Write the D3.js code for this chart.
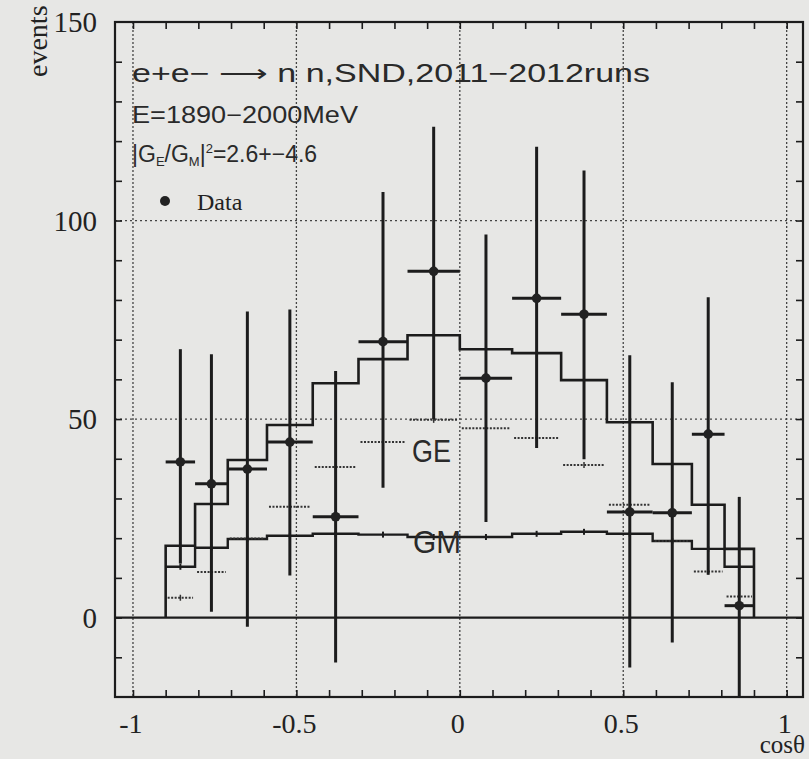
<!DOCTYPE html>
<html>
<head>
<meta charset="utf-8">
<script src="https://cdn.jsdelivr.net/npm/d3@7"></script>
<style>
  body { margin: 0; background: #e7e7e5; }
  svg { display: block; }
</style>
</head>
<body>
<svg width="809" height="759"></svg>
<script>
// angular distribution, e+e- -> n nbar, SND 2011-2012

// bin edges in cos(theta)
const binEdges = [-0.9, -0.81, -0.71, -0.59, -0.45, -0.31, -0.16, 0, 0.16, 0.31, 0.45, 0.59, 0.71, 0.81, 0.9];
// data points (events) with asymmetric error bar ends
const dataEvents = [39.2, 33.7, 37.4, 44.2, 25.4, 69.5, 87.2, 60.3, 80.4, 76.4, 26.6, 26.4, 46.2, 3.0];
const dataUpper = [67.6, 66.3, 77.1, 77.6, 62.1, 107.2, 123.6, 96.5, 118.6, 112.6, 66.1, 59.3, 80.7, 30.4];
const dataLower = [13.6, 1.5, -2.3, 10.6, -11.3, 32.7, 50.0, 24.1, 42.7, 39.9, -12.6, -6.3, 10.8, -25];
// fit: total, GE part, GM part
const fitTotal = [18.1, 28.6, 39.7, 48.5, 59.0, 65.1, 71.1, 67.6, 66.6, 59.8, 49.2, 38.7, 28.4, 17.3];
const fitGE = [5.0, 11.5, 19.9, 27.9, 37.9, 44.2, 49.8, 47.7, 45.2, 38.4, 28.4, 19.3, 11.6, 5.3];
const fitGM = [12.8, 17.6, 19.8, 20.6, 21.1, 20.9, 20.3, 20.3, 21.1, 21.6, 21.1, 19.3, 17.3, 12.8];

// ticks
const xMajor = [-1, -0.5, 0, 0.5, 1];
const xTickLabels = ["-1", "-0.5", "0", "0.5", "1"];
const yMajor = [0, 50, 100, 150];
const yTickLabels = ["0", "50", "100", "150"];
const xMinor = [-1, -0.9, -0.8, -0.7, -0.6, -0.5, -0.4, -0.3, -0.2, -0.1, 0, 0.1, 0.2, 0.3, 0.4, 0.5, 0.6, 0.7, 0.8, 0.9, 1];
const yMinor = [-10, 0, 10, 20, 30, 40, 50, 60, 70, 80, 90, 100, 110, 120, 130, 140];

const ink = "#1c1c1c";
const svg = d3.select("svg");

const fLeft = 115, fRight = 803, fTop = 22, fBottom = 697;
const x = d3.scaleLinear().domain([-1.055, 1.05]).range([fLeft, fRight]);
const y = d3.scaleLinear().domain([-20, 150]).range([fBottom, fTop]);

const bins = fitTotal.map((d, i) => ({
  i: i,
  x0: binEdges[i],
  x1: binEdges[i + 1],
  xc: (binEdges[i] + binEdges[i + 1]) / 2,
}));

svg.append("defs").append("clipPath").attr("id", "frame")
  .append("rect")
  .attr("x", fLeft).attr("y", fTop)
  .attr("width", fRight - fLeft).attr("height", fBottom - fTop);

const plot = svg.append("g").attr("clip-path", "url(#frame)");

// dotted grid
plot.selectAll(".vgrid").data(xMajor).enter().append("line")
  .attr("x1", (d) => x(d)).attr("x2", (d) => x(d))
  .attr("y1", fTop).attr("y2", fBottom)
  .attr("stroke", "#444").attr("stroke-width", 1.3)
  .attr("stroke-dasharray", "2,2");
plot.selectAll(".hgrid").data([50, 100]).enter().append("line")
  .attr("x1", fLeft).attr("x2", fRight)
  .attr("y1", (d) => y(d)).attr("y2", (d) => y(d))
  .attr("stroke", "#444").attr("stroke-width", 1.3)
  .attr("stroke-dasharray", "2,3");
// zero line
plot.append("line")
  .attr("x1", fLeft).attr("x2", fRight)
  .attr("y1", y(0)).attr("y2", y(0))
  .attr("stroke", ink).attr("stroke-width", 2.2);

// step line helper
const stepPts = (vals, closeToZero) => {
  const pts = [];
  if (closeToZero) pts.push([binEdges[0], 0]);
  vals.forEach((v, i) => {
    pts.push([binEdges[i], v]);
    pts.push([binEdges[i + 1], v]);
  });
  if (closeToZero) pts.push([binEdges[binEdges.length - 1], 0]);
  return pts;
};
const line = d3.line().x((d) => x(d[0])).y((d) => y(d[1]));

// total fit
plot.append("path")
  .attr("d", line(stepPts(fitTotal, true)))
  .attr("fill", "none").attr("stroke", ink).attr("stroke-width", 2.6);

// GM part
plot.append("path")
  .attr("d", line(stepPts(fitGM, false)))
  .attr("fill", "none").attr("stroke", ink).attr("stroke-width", 2.4);
plot.selectAll(".gmtick").data(bins).enter().append("line")
  .attr("x1", (d) => x(d.xc)).attr("x2", (d) => x(d.xc))
  .attr("y1", (d) => y(fitGM[d.i]) - 3).attr("y2", (d) => y(fitGM[d.i]) + 3)
  .attr("stroke", ink).attr("stroke-width", 2);

// GE part
plot.selectAll(".ge").data(bins).enter().append("line")
  .attr("x1", (d) => x(d.x0) + 2).attr("x2", (d) => x(d.x1) - 2)
  .attr("y1", (d) => y(fitGE[d.i])).attr("y2", (d) => y(fitGE[d.i]))
  .attr("stroke", "#333").attr("stroke-width", 2)
  .attr("stroke-dasharray", "2,1.5");
plot.selectAll(".getick").data(bins).enter().append("line")
  .attr("x1", (d) => x(d.xc)).attr("x2", (d) => x(d.xc))
  .attr("y1", (d) => y(fitGE[d.i]) - 3).attr("y2", (d) => y(fitGE[d.i]) + 3)
  .attr("stroke", "#333").attr("stroke-width", 1.5);

// data error bars
plot.selectAll(".herr").data(bins).enter().append("line")
  .attr("x1", (d) => x(d.x0)).attr("x2", (d) => x(d.x1))
  .attr("y1", (d) => y(dataEvents[d.i])).attr("y2", (d) => y(dataEvents[d.i]))
  .attr("stroke", ink).attr("stroke-width", 3);
plot.selectAll(".verr").data(bins).enter().append("line")
  .attr("x1", (d) => x(d.xc)).attr("x2", (d) => x(d.xc))
  .attr("y1", (d) => y(dataUpper[d.i])).attr("y2", (d) => y(dataLower[d.i]))
  .attr("stroke", ink).attr("stroke-width", 3);
plot.selectAll(".pt").data(bins).enter().append("circle")
  .attr("cx", (d) => x(d.xc)).attr("cy", (d) => y(dataEvents[d.i]))
  .attr("r", 4.8).attr("fill", "#222");

// frame
svg.append("rect")
  .attr("x", fLeft).attr("y", fTop)
  .attr("width", fRight - fLeft).attr("height", fBottom - fTop)
  .attr("fill", "none").attr("stroke", ink).attr("stroke-width", 2.2);

// inward ticks on all four sides
const tickLen = 7;
svg.append("g").attr("transform", `translate(0,${fBottom})`)
  .call(d3.axisBottom(x).tickValues(xMinor).tickSize(-tickLen).tickFormat(""))
  .call((g) => g.select(".domain").remove());
svg.append("g").attr("transform", `translate(0,${fTop})`)
  .call(d3.axisTop(x).tickValues(xMinor).tickSize(-tickLen).tickFormat(""))
  .call((g) => g.select(".domain").remove());
svg.append("g").attr("transform", `translate(${fLeft},0)`)
  .call(d3.axisLeft(y).tickValues(yMinor).tickSize(-tickLen).tickFormat(""))
  .call((g) => g.select(".domain").remove());
svg.append("g").attr("transform", `translate(${fRight},0)`)
  .call(d3.axisRight(y).tickValues(yMinor).tickSize(-tickLen).tickFormat(""))
  .call((g) => g.select(".domain").remove());
svg.selectAll(".tick line").attr("stroke", ink).attr("stroke-width", 1.6);

// tick labels
const serif = "'Liberation Serif', 'DejaVu Serif', serif";
svg.selectAll(".xlab").data(xMajor).enter().append("text")
  .attr("x", (d) => x(d) - 2).attr("y", 733)
  .attr("text-anchor", "middle")
  .attr("font-family", serif).attr("font-size", 28).attr("fill", "#222")
  .text((d, i) => xTickLabels[i]);
svg.selectAll(".ylab").data(yMajor).enter().append("text")
  .attr("x", 97).attr("y", (d) => y(d) + 10)
  .attr("text-anchor", "end")
  .attr("font-family", serif).attr("font-size", 29).attr("fill", "#222")
  .text((d, i) => yTickLabels[i]);

// axis titles
svg.append("text")
  .attr("x", 805).attr("y", 753)
  .attr("text-anchor", "end")
  .attr("font-family", serif).attr("font-size", 25).attr("fill", "#222")
  .text("cosθ");
svg.append("text")
  .attr("transform", "translate(47,77) rotate(-90)")
  .attr("font-family", serif).attr("font-size", 28).attr("fill", "#222")
  .text("events");

// annotation
const sans = "'Liberation Sans', Arial, sans-serif";
const note = svg.append("g").attr("font-family", sans).attr("fill", "#2a2a2a");
note.append("text").attr("x", 132).attr("y", 82)
  .attr("font-size", 25).attr("textLength", 518).attr("lengthAdjust", "spacingAndGlyphs")
  .text("e+e− ⟶ n n,SND,2011−2012runs");
note.append("text").attr("x", 132).attr("y", 123)
  .attr("font-size", 23).attr("textLength", 226).attr("lengthAdjust", "spacingAndGlyphs")
  .text("E=1890−2000MeV");
const g3 = note.append("text").attr("x", 132).attr("y", 162).attr("font-size", 23);
g3.append("tspan").text("|G");
g3.append("tspan").attr("font-size", 13).attr("dy", 4).text("E");
g3.append("tspan").attr("dy", -4).text("/G");
g3.append("tspan").attr("font-size", 13).attr("dy", 4).text("M");
g3.append("tspan").attr("dy", -4).text("|");
g3.append("tspan").attr("font-size", 13).attr("dy", -9).text("2");
g3.append("tspan").attr("dy", 9).text("=2.6+−4.6");

// legend
svg.append("circle").attr("cx", 165).attr("cy", 201).attr("r", 5).attr("fill", "#222");
svg.append("text").attr("x", 197).attr("y", 210)
  .attr("font-family", serif).attr("font-size", 24).attr("fill", "#222")
  .text("Data");

// component labels
svg.append("text").attr("x", 412).attr("y", 462)
  .attr("font-family", sans).attr("font-size", 31).attr("fill", "#2a2a2a")
  .attr("textLength", 39).attr("lengthAdjust", "spacingAndGlyphs")
  .text("GE");
svg.append("text").attr("x", 413).attr("y", 553)
  .attr("font-family", sans).attr("font-size", 31).attr("fill", "#2a2a2a")
  .attr("textLength", 48).attr("lengthAdjust", "spacingAndGlyphs")
  .text("GM");
</script>
</body>
</html>
